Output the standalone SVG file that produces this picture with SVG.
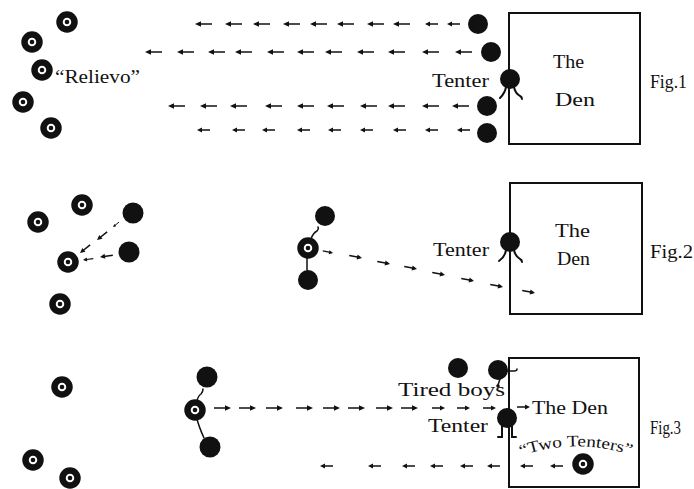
<svg xmlns="http://www.w3.org/2000/svg" xmlns:xlink="http://www.w3.org/1999/xlink" width="694" height="489" viewBox="0 0 694 489">
<style>
text{font-family:"Liberation Serif","DejaVu Serif",serif;fill:#111;font-size:19px}
.box{fill:none;stroke:#111;stroke-width:2}
.dot{fill:#111}
.ring{fill:#fff;stroke:#111;stroke-width:6.5}
.leg{fill:none;stroke:#111;stroke-width:2;stroke-linecap:round}
.sh{stroke:#111;stroke-width:1.5;fill:none}
.hd{fill:#111}
</style>
<defs>
<g id="la"><path class="sh" d="M2,0H17"/><path class="hd" d="M0,0L6,-2.8L6,2.8Z"/></g>
<g id="las"><path class="sh" d="M2,0H13"/><path class="hd" d="M0,0L5,-2.5L5,2.5Z"/></g>
<g id="ra"><path class="sh" d="M-2,0H-17"/><path class="hd" d="M0,0L-6,-2.8L-6,2.8Z"/></g>
<g id="ras"><path class="sh" d="M-2,0H-13"/><path class="hd" d="M0,0L-5,-2.5L-5,2.5Z"/></g>
<g id="rg"><circle class="ring" r="7.5"/><circle class="dot" r="2.3"/></g>
</defs>
<rect width="694" height="489" fill="#fff"/>

<!-- Fig 1 -->
<g id="den1"><rect class="box" x="509" y="13" width="131" height="131"/><text x="553" y="68" textLength="31" lengthAdjust="spacingAndGlyphs">The</text><text x="555" y="106" textLength="40" lengthAdjust="spacingAndGlyphs">Den</text></g>
<g id="fig1"><text x="650" y="88" textLength="37" lengthAdjust="spacingAndGlyphs">Fig.1</text></g>
<g id="tenter1"><circle class="dot" cx="510" cy="79" r="10"/><path class="leg" d="M506,87q-1,6-6,11M514,87q1,6,6,9q2,1,2,3"/><text x="432" y="87" textLength="57" lengthAdjust="spacingAndGlyphs">Tenter</text></g>
<g id="boys1"><circle class="dot" cx="478" cy="24" r="10"/><circle class="dot" cx="491" cy="52" r="10"/><circle class="dot" cx="487" cy="106" r="10"/><circle class="dot" cx="487" cy="133" r="10"/></g>
<g id="relievo1"><use xlink:href="#rg" x="67" y="22"/><use xlink:href="#rg" x="32" y="42"/><use xlink:href="#rg" x="42" y="70"/><use xlink:href="#rg" x="23" y="102"/><use xlink:href="#rg" x="51" y="128"/><text x="55" y="83" textLength="85" lengthAdjust="spacingAndGlyphs">“Relievo”</text></g>

<!-- Fig 2 -->
<g id="den2"><rect class="box" x="510" y="183" width="132" height="131"/><text x="555" y="237" textLength="35" lengthAdjust="spacingAndGlyphs">The</text><text x="557" y="265" textLength="33" lengthAdjust="spacingAndGlyphs">Den</text></g>
<g id="fig2"><text x="650" y="258" textLength="43" lengthAdjust="spacingAndGlyphs">Fig.2</text></g>
<g id="tenter2"><circle class="dot" cx="510" cy="242" r="10"/><path class="leg" d="M506,250q-1,7-7,11M514,250q1,6,6,9q2,1,2,3"/><text x="433" y="256" textLength="56" lengthAdjust="spacingAndGlyphs">Tenter</text></g>
<g id="group2"><circle class="dot" cx="325" cy="216" r="10"/><use xlink:href="#rg" x="308" y="248"/><circle class="dot" cx="308" cy="280" r="10"/><path class="leg" style="stroke-width:1.5" d="M311,239q2,-6 6,-8q2,-2 1,-4M307,257v13"/></g>
<g id="relievo2"><use xlink:href="#rg" x="38" y="222"/><use xlink:href="#rg" x="82" y="205"/><use xlink:href="#rg" x="68" y="262"/><use xlink:href="#rg" x="60" y="304"/><circle class="dot" cx="133" cy="213" r="10.5"/><circle class="dot" cx="129" cy="252" r="10.5"/></g>

<!-- Fig 3 -->
<g id="den3"><rect class="box" x="509" y="358" width="130" height="129"/><text x="532" y="414" textLength="76" lengthAdjust="spacingAndGlyphs">The Den</text></g>
<g id="fig3"><text x="650" y="434" textLength="31" lengthAdjust="spacingAndGlyphs" style="font-size:18px">Fig.3</text></g>
<g id="tenter3"><circle class="dot" cx="507" cy="418" r="10"/><path class="leg" d="M502,426v11h-4M512,426v11h4"/><text x="428" y="432" textLength="60" lengthAdjust="spacingAndGlyphs">Tenter</text></g>
<g id="tired"><circle class="dot" cx="458" cy="368" r="10"/><circle class="dot" cx="498" cy="370" r="10"/><path class="leg" style="stroke-width:1.5" d="M506,371h8q3,0 3,-2M500,379l-2,6"/><circle class="dot" cx="498" cy="386" r="1.8"/><text x="398" y="396" textLength="107" lengthAdjust="spacingAndGlyphs">Tired boys</text></g>
<g id="twotenters"><use xlink:href="#rg" x="583" y="464"/><path id="arc" d="M521,456Q578,436 636,457" fill="none"/><text style="font-size:16px"><textPath xlink:href="#arc" textLength="112" lengthAdjust="spacingAndGlyphs">“Two Tenters”</textPath></text></g>
<g id="group3"><circle class="dot" cx="207" cy="377" r="10.5"/><use xlink:href="#rg" x="195" y="410"/><circle class="dot" cx="210" cy="447" r="10.5"/><path class="leg" style="stroke-width:1.5" d="M197,401q1,-5 4,-7q2,-2 2,-5M197,419q2,8 7,19"/></g>
<g id="relievo3"><use xlink:href="#rg" x="62" y="387"/><use xlink:href="#rg" x="33" y="460"/><use xlink:href="#rg" x="70" y="478"/></g>

<g id="connectors">
<use xlink:href="#la" x="195" y="24"/><use xlink:href="#la" x="225" y="24"/><use xlink:href="#la" x="253" y="24"/><use xlink:href="#la" x="283" y="24"/><use xlink:href="#la" x="310" y="24"/><use xlink:href="#la" x="337" y="24"/><use xlink:href="#la" x="367" y="24"/><use xlink:href="#la" x="393" y="24"/><use xlink:href="#las" x="425" y="24"/><use xlink:href="#las" x="447" y="24"/>
<use xlink:href="#la" x="145" y="52"/><use xlink:href="#la" x="177" y="52"/><use xlink:href="#la" x="208" y="52"/><use xlink:href="#la" x="235" y="52"/><use xlink:href="#la" x="267" y="52"/><use xlink:href="#la" x="297" y="52"/><use xlink:href="#la" x="325" y="52"/><use xlink:href="#la" x="357" y="52"/><use xlink:href="#la" x="388" y="52"/><use xlink:href="#la" x="422" y="52"/><use xlink:href="#la" x="455" y="52"/>
<use xlink:href="#la" x="168" y="106"/><use xlink:href="#la" x="200" y="106"/><use xlink:href="#la" x="230" y="106"/><use xlink:href="#la" x="265" y="106"/><use xlink:href="#la" x="297" y="106"/><use xlink:href="#la" x="327" y="106"/><use xlink:href="#la" x="360" y="106"/><use xlink:href="#la" x="388" y="106"/><use xlink:href="#la" x="422" y="106"/><use xlink:href="#la" x="452" y="106"/>
<use xlink:href="#las" x="197" y="130"/><use xlink:href="#las" x="232" y="130"/><use xlink:href="#las" x="262" y="130"/><use xlink:href="#las" x="297" y="130"/><use xlink:href="#las" x="328" y="130"/><use xlink:href="#las" x="360" y="130"/><use xlink:href="#las" x="393" y="130"/><use xlink:href="#las" x="425" y="130"/><use xlink:href="#las" x="457" y="130"/>
<use xlink:href="#las" transform="translate(80,253) rotate(-39)"/><use xlink:href="#las" transform="translate(97,240) rotate(-39)"/><use xlink:href="#las" transform="translate(113,227) rotate(-39) scale(0.6)"/>
<use xlink:href="#las" transform="translate(83,260) rotate(-8) scale(0.8)"/><use xlink:href="#las" transform="translate(100,257) rotate(-8)"/>
<use xlink:href="#ras" transform="translate(333,253) rotate(11.3) scale(0.8)"/><use xlink:href="#ras" transform="translate(362,258) rotate(11.3)"/><use xlink:href="#ras" transform="translate(390,264) rotate(11.3)"/><use xlink:href="#ras" transform="translate(417,269) rotate(11.3)"/><use xlink:href="#ras" transform="translate(445,275) rotate(11.3)"/><use xlink:href="#ras" transform="translate(474,281) rotate(11.3)"/><use xlink:href="#ras" transform="translate(503,287) rotate(11.3)"/><use xlink:href="#ras" transform="translate(535,293) rotate(11.3)"/>
<use xlink:href="#ra" x="231" y="408"/><use xlink:href="#ra" x="256" y="408"/><use xlink:href="#ra" x="283" y="408"/><use xlink:href="#ra" x="313" y="408"/><use xlink:href="#ra" x="340" y="408"/><use xlink:href="#ra" x="365" y="408"/><use xlink:href="#ra" x="393" y="408"/><use xlink:href="#ra" x="418" y="408"/><use xlink:href="#ras" x="445" y="408"/><use xlink:href="#ras" x="470" y="408"/><use xlink:href="#ras" x="496" y="408"/>
<use xlink:href="#ras" x="530" y="407"/>
<use xlink:href="#las" x="320" y="466"/><use xlink:href="#las" x="368" y="466"/><use xlink:href="#las" x="402" y="466"/><use xlink:href="#las" x="430" y="466"/><use xlink:href="#las" x="460" y="466"/><use xlink:href="#las" x="487" y="466"/><use xlink:href="#las" x="520" y="466"/><use xlink:href="#las" x="550" y="466"/>
</g>
</svg>
